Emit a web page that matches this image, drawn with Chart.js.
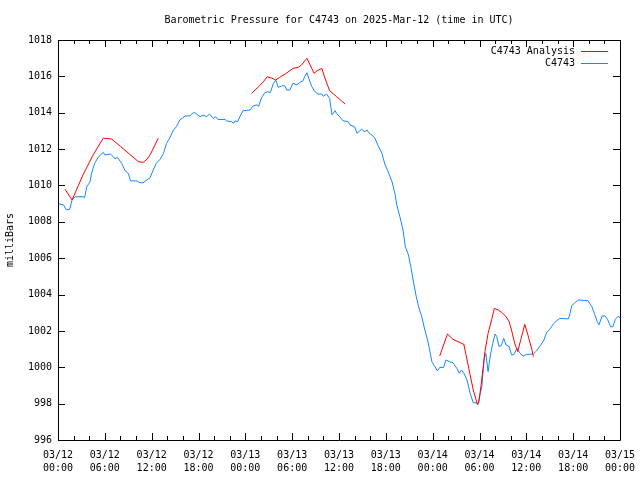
<!DOCTYPE html>
<html>
<head>
<meta charset="utf-8">
<script src="https://cdn.jsdelivr.net/npm/chart.js@4.4.1/dist/chart.umd.min.js"></script>
<style>
  html, body { margin: 0; padding: 0; background: #fff; }
</style>
</head>
<body>
<canvas id="myChart" width="640" height="480"></canvas>
<script>
// hours since 03/12 00:00 UTC
const stationHours = [0.0, 0.7, 1.1, 1.5, 1.8, 2.2, 3.2, 3.4, 3.7, 4.1, 4.3, 4.7, 5.2, 5.8, 6.0, 6.7, 7.1, 7.3, 7.6, 8.15,
    8.6, 9.0, 9.3, 10.1, 10.5, 10.9, 11.4, 11.8, 12.2, 12.6, 13.1, 13.5, 13.9, 14.3, 14.8, 15.2, 15.6, 16.3, 16.9, 17.3,
    17.6, 18.2, 18.6, 19.05, 19.4, 19.9, 20.2, 20.5, 21.4, 21.6, 22.2, 22.5, 22.7, 23.0, 23.3, 23.7, 24.6, 25.0, 25.5, 25.7,
    26.1, 26.5, 26.9, 27.2, 27.6, 27.9, 28.2, 28.6, 28.8, 29.1, 29.3, 29.7, 30.1, 30.6, 31.0, 31.4, 31.6, 31.9, 32.2, 32.5,
    32.9, 33.3, 33.8, 34.0, 34.4, 34.8, 35.1, 35.5, 35.7, 36.1, 36.5, 37.2, 37.4, 38.0, 38.3, 38.9, 39.3, 39.6, 39.8, 40.2,
    40.6, 41.0, 41.5, 41.9, 42.3, 42.8, 43.2, 43.4, 43.8, 44.2, 44.5, 44.9, 45.2, 45.5, 45.9, 46.2, 46.6, 47.0, 47.4, 47.7,
    47.9, 48.3, 48.6, 48.9, 49.4, 49.7, 50.2, 50.6, 51.1, 51.4, 51.7, 52.0, 52.4, 52.8, 53.2, 53.6, 53.8, 54.1, 54.3, 54.5,
    54.6, 54.8, 55.1, 55.4, 55.7, 56.0, 56.2, 56.5, 56.8, 57.1, 57.4, 57.8, 58.1, 58.4, 58.8, 59.2, 59.6, 60.0, 60.9, 61.3,
    61.7, 62.2, 62.6, 63.0, 63.5, 63.9, 64.3, 65.4, 65.6, 65.8, 66.2, 66.7, 67.9, 68.4, 68.7, 69.1, 69.3, 69.7, 70.1, 70.4,
    70.8, 71.1, 71.4, 71.8, 72.0];
const stationMb = [1009.0, 1008.93, 1008.65, 1008.69, 1009.2, 1009.38, 1009.38, 1009.33, 1009.93, 1010.2, 1010.67, 1011.22, 1011.58, 1011.82, 1011.68, 1011.73, 1011.58, 1011.46, 1011.55, 1011.22,
    1010.81, 1010.67, 1010.25, 1010.25, 1010.15, 1010.15, 1010.3, 1010.43, 1010.85, 1011.22, 1011.45, 1011.75, 1012.3, 1012.6, 1013.05, 1013.25, 1013.6, 1013.82, 1013.82, 1014.0,
    1013.98, 1013.78, 1013.87, 1013.78, 1013.93, 1013.69, 1013.78, 1013.63, 1013.63, 1013.55, 1013.51, 1013.42, 1013.55, 1013.5, 1013.78, 1014.11, 1014.15, 1014.37, 1014.43, 1014.35,
    1014.85, 1015.1, 1015.16, 1015.1, 1015.62, 1015.8, 1015.4, 1015.45, 1015.5, 1015.45, 1015.25, 1015.25, 1015.62, 1015.53, 1015.67, 1015.76, 1015.98, 1016.2, 1015.8, 1015.45,
    1015.16, 1015.03, 1015.03, 1014.9, 1015.03, 1014.79, 1013.88, 1014.11, 1013.95, 1013.78, 1013.56, 1013.5, 1013.33, 1013.23, 1012.87, 1013.09, 1012.96, 1013.05, 1012.9, 1012.78,
    1012.6, 1012.2, 1011.77, 1011.13, 1010.76, 1010.2, 1009.48, 1008.93, 1008.28, 1007.55, 1006.63, 1006.18, 1005.53, 1004.8, 1003.88, 1003.33, 1002.78, 1002.05, 1001.41, 1000.77,
    1000.3, 1000.03, 999.8, 999.99, 999.99, 1000.4, 1000.3, 1000.25, 999.94, 999.67, 999.85, 999.67, 999.3, 998.57, 998.05, 998.05, 997.93, 998.57, 998.93, 999.94,
    1000.49, 1000.77, 999.76, 1000.68, 1001.32, 1001.83, 1001.7, 1001.14, 1001.2, 1001.59, 1001.23, 1001.14, 1000.68, 1000.7, 1001.05, 1000.77, 1000.62, 1000.7, 1000.73, 1000.9,
    1001.14, 1001.45, 1001.9, 1002.09, 1002.4, 1002.56, 1002.69, 1002.66, 1002.97, 1003.37, 1003.55, 1003.7, 1003.66, 1003.33, 1002.97, 1002.5, 1002.33, 1002.82, 1002.82, 1002.64,
    1002.23, 1002.23, 1002.64, 1002.82, 1002.69];

// null values are the gaps in the analysis
const analysisHours = [0.9, 1.8, 3.2, 4.5, 5.8, 6.9, 8.0, 9.2, 10.3, 10.9, 11.4, 11.8, 12.85,
    18,
    24.8, 25.7, 26.3, 26.8, 27.4, 27.9, 28.4, 29.1, 29.7, 30.1, 30.8, 31.2, 31.9, 32.3, 32.8, 33.2, 33.8, 34.2, 34.8, 35.7, 36.3, 36.8,
    42,
    48.9, 49.9, 50.6, 51.9, 52.0, 52.8, 53.2, 53.7, 53.9, 54.2, 54.7, 55.1, 55.6, 55.9, 56.4, 56.9, 57.4, 57.8, 58.1, 58.5, 58.9, 59.3, 59.8, 60.2, 60.7, 60.9];
const analysisMb = [1009.79, 1009.2, 1010.58, 1011.68, 1012.6, 1012.55, 1012.15, 1011.71, 1011.31, 1011.27, 1011.44, 1011.68, 1012.6,
    null,
    1015.07, 1015.43, 1015.7, 1015.98, 1015.9, 1015.8, 1015.95, 1016.13, 1016.31, 1016.44, 1016.5, 1016.63, 1016.99, 1016.63, 1016.17, 1016.31, 1016.44, 1015.9, 1015.21, 1014.88, 1014.66, 1014.48,
    null,
    1000.62, 1001.83, 1001.54, 1001.28, 1001.25, 999.58, 998.75, 998.0, 998.05, 999.0, 1000.86, 1001.87, 1002.69, 1003.24, 1003.15, 1003.0, 1002.78, 1002.5, 1002.05, 1001.32, 1000.86, 1001.54, 1002.36, 1001.78, 1000.99, 1000.58];

const xTickLabels = [
    ['03/12', '00:00'], ['03/12', '06:00'], ['03/12', '12:00'], ['03/12', '18:00'],
    ['03/13', '00:00'], ['03/13', '06:00'], ['03/13', '12:00'], ['03/13', '18:00'],
    ['03/14', '00:00'], ['03/14', '06:00'], ['03/14', '12:00'], ['03/14', '18:00'],
    ['03/15', '00:00']];

const FONT = 'DejaVu Sans Mono';

function toPoints(xs, ys) {
    return xs.map((x, i) => ({ x: x, y: ys[i] }));
}

// gnuplot-like frame: border plus inward ticks on all four sides, and key top right
const gnuplotFrame = {
    id: 'gnuplotFrame',
    afterDraw(chart) {
        const { ctx, chartArea: a, scales } = chart;
        ctx.save();
        ctx.strokeStyle = '#000';
        ctx.lineWidth = 1;
        ctx.beginPath();
        ctx.rect(a.left + 0.5, a.top + 0.5, a.right - a.left, a.bottom - a.top);
        for (let v = 996; v <= 1018; v += 2) {
            const y = Math.round(scales.y.getPixelForValue(v)) + 0.5;
            ctx.moveTo(a.left, y); ctx.lineTo(a.left + 7, y);
            ctx.moveTo(a.right, y); ctx.lineTo(a.right - 7, y);
        }
        for (let h = 0; h <= 72; h += 2) {
            const len = h % 6 === 0 ? 7 : 4;
            const x = Math.round(scales.x.getPixelForValue(h)) + 0.5;
            ctx.moveTo(x, a.bottom); ctx.lineTo(x, a.bottom - len);
            ctx.moveTo(x, a.top); ctx.lineTo(x, a.top + len);
        }
        ctx.stroke();

        ctx.font = '10px ' + FONT;
        ctx.textAlign = 'right';
        ctx.textBaseline = 'middle';
        chart.data.datasets.forEach((ds, i) => {
            const y = 51 + i * 12;
            ctx.fillStyle = '#000';
            ctx.fillText(ds.label, 575, y);
            ctx.strokeStyle = ds.borderColor;
            ctx.beginPath();
            ctx.moveTo(581, y + 0.5);
            ctx.lineTo(608, y + 0.5);
            ctx.stroke();
        });
        ctx.restore();
    }
};

const ctx = document.getElementById('myChart').getContext('2d');
const myChart = new Chart(ctx, {
    type: 'line',
    data: {
        datasets: [{
            label: 'C4743 Analysis',
            data: toPoints(analysisHours, analysisMb),
            borderColor: 'rgb(255, 0, 0)',
            borderWidth: 1,
            pointRadius: 0,
            spanGaps: false,
        }, {
            label: 'C4743',
            data: toPoints(stationHours, stationMb),
            borderColor: 'rgb(20, 135, 255)',
            borderWidth: 1,
            pointRadius: 0,
        }]
    },
    options: {
        responsive: false,
        animation: false,
        layout: { padding: { left: 0, right: 20, top: 0, bottom: 0 } },
        plugins: {
            legend: { display: false },
            tooltip: { enabled: false },
            title: {
                display: true,
                fullSize: false,
                text: 'Barometric Pressure for C4743 on 2025-Mar-12 (time in UTC)',
                color: '#000',
                font: { family: FONT, size: 10, weight: 'normal' },
                padding: { top: 14, bottom: 14 },
            },
        },
        scales: {
            x: {
                type: 'linear',
                min: 0,
                max: 72,
                afterBuildTicks: axis => {
                    axis.ticks = xTickLabels.map((l, i) => ({ value: i * 6 }));
                },
                afterFit: axis => { axis.height = 40; },
                grid: { display: false },
                border: { display: false },
                ticks: {
                    autoSkip: false,
                    maxRotation: 0,
                    padding: 1,
                    color: '#000',
                    font: { family: FONT, size: 10, lineHeight: 1.3 },
                    callback: val => xTickLabels[Math.round(val / 6)],
                },
            },
            y: {
                min: 996,
                max: 1018,
                afterFit: axis => { axis.width = 58; },
                grid: { display: false, tickLength: 6 },
                border: { display: false },
                ticks: {
                    stepSize: 2,
                    padding: 0,
                    color: '#000',
                    font: { family: FONT, size: 10 },
                    callback: val => String(val),
                },
                title: {
                    display: true,
                    text: 'milliBars',
                    color: '#000',
                    font: { family: FONT, size: 10 },
                    padding: { top: 4, bottom: 0 },
                },
            },
        },
    },
    plugins: [gnuplotFrame],
});
</script>
</body>
</html>
